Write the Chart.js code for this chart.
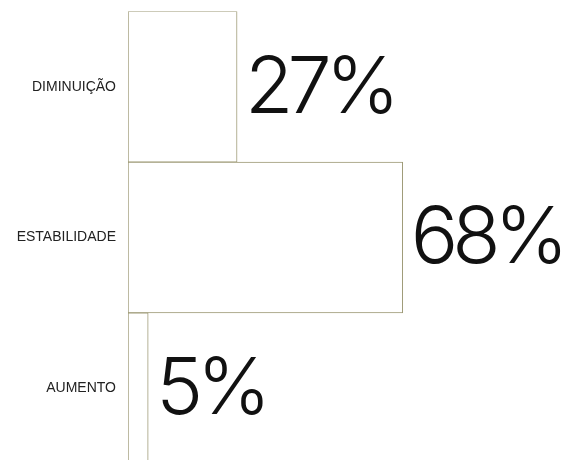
<!DOCTYPE html>
<html>
<head>
<meta charset="utf-8">
<script src="https://cdn.jsdelivr.net/npm/chart.js@4"></script>
<style>
  html, body { margin: 0; padding: 0; background: #fff; overflow: hidden; }
</style>
</head>
<body>
<canvas id="grafico" width="563" height="475"></canvas>
<script>
// Dados do gráfico
var categorias = ['DIMINUIÇÃO', 'ESTABILIDADE', 'AUMENTO'];
var valores = [27, 68, 5];

var corBorda = '#9c9874';

// Plugin simples para escrever o valor ao lado de cada barra
var rotulosValor = {
  id: 'rotulosValor',
  afterDatasetsDraw: function (chart) {
    var ctx = chart.ctx;
    var meta = chart.getDatasetMeta(0);
    ctx.save();
    ctx.font = '270 79px Inter, "Liberation Sans", sans-serif';
    ctx.letterSpacing = '-6px';
    ctx.fillStyle = '#111';
    ctx.textAlign = 'left';
    ctx.textBaseline = 'middle';
    meta.data.forEach(function (barra, i) {
      ctx.fillText(valores[i] + '%', barra.x + 8, barra.y + 2);
    });
    ctx.restore();
  }
};

var ctx = document.getElementById('grafico').getContext('2d');

new Chart(ctx, {
  type: 'bar',
  data: {
    labels: categorias,
    datasets: [{
      data: valores,
      backgroundColor: '#ffffff',
      borderColor: corBorda,
      borderWidth: 1,
      borderSkipped: false,
      barPercentage: 1,
      categoryPercentage: 1
    }]
  },
  options: {
    indexAxis: 'y',
    responsive: false,
    animation: false,
    layout: { padding: { top: 0, right: 31, bottom: 0, left: 0 } },
    plugins: {
      legend: { display: false },
      tooltip: { enabled: false }
    },
    scales: {
      x: {
        display: false,
        min: 0,
        max: 100
      },
      y: {
        // tickLength + padding = distância do texto ao eixo
        grid: { display: false, drawTicks: true, tickLength: 9 },
        border: { display: false },
        ticks: {
          padding: 3,
          color: '#222',
          font: { family: '"Liberation Sans", Arial, sans-serif', size: 14 }
        },
        afterFit: function (scale) { scale.width = 128; }
      }
    }
  },
  plugins: [rotulosValor]
});
</script>
</body>
</html>
